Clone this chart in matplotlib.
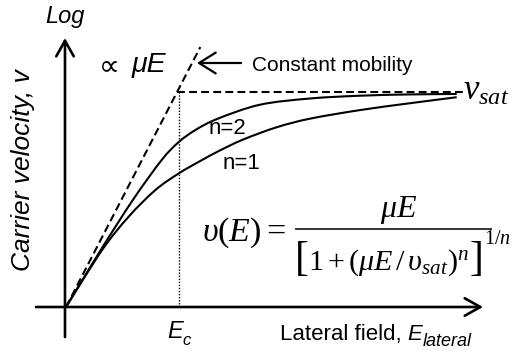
import matplotlib
matplotlib.use("Agg")
import matplotlib.pyplot as plt
from matplotlib.path import Path
from matplotlib.patches import PathPatch

plt.rcParams['font.family'] = ['Liberation Sans', 'DejaVu Sans']
plt.rcParams['mathtext.fontset'] = 'custom'
plt.rcParams['mathtext.rm'] = 'Liberation Serif'
plt.rcParams['mathtext.it'] = 'Liberation Serif:italic'
plt.rcParams['mathtext.bf'] = 'Liberation Serif:bold'

# Field in units of E_c, velocity in units of v_sat
field_n2 = [0, 0.32, 0.602, 0.85, 1.0, 1.15, 1.35, 1.724, 2.169, 2.613,
            3.058, 3.473]
vel_n2 = [0, 0.275, 0.505, 0.685, 0.768, 0.825, 0.878, 0.943, 0.972, 0.985,
          0.991, 0.993]

field_n1 = [0, 0.32, 0.557, 0.794, 1.0, 1.191, 1.369, 1.576, 1.873, 2.169,
            2.613, 3.058, 3.473]
vel_n1 = [0, 0.265, 0.421, 0.545, 0.622, 0.680, 0.730, 0.781, 0.838, 0.878,
          0.918, 0.950, 0.978]

mobility_slope = 1.015        # constant-mobility line v = mu*E
mobility_end = 1.194          # where the dashed line stops
E_c = 1.0
v_sat = 1.0
sat_line_end = 3.564

fig = plt.figure(figsize=(5.14, 3.52), dpi=100)
ax = fig.add_axes([0, 0, 1, 1])
ax.set_xlim(-0.5867, 3.9822)
ax.set_ylim(-0.2098, 1.4312)
ax.axis('off')


def smooth_curve(xs, ys, **kw):
    """Draw a smooth Catmull-Rom style Bezier curve through the points."""
    pts = list(zip(xs, ys))
    n = len(pts)
    verts = [pts[0]]
    codes = [Path.MOVETO]
    for i in range(n - 1):
        p0 = pts[max(i - 1, 0)]
        p1 = pts[i]
        p2 = pts[i + 1]
        p3 = pts[min(i + 2, n - 1)]
        c1 = (p1[0] + (p2[0] - p0[0]) / 6, p1[1] + (p2[1] - p0[1]) / 6)
        c2 = (p2[0] - (p3[0] - p1[0]) / 6, p2[1] - (p3[1] - p1[1]) / 6)
        verts += [c1, c2, p2]
        codes += [Path.CURVE4] * 3
    ax.add_patch(PathPatch(Path(verts, codes), fill=False,
                           transform=ax.transData, **kw))


# axes with open arrowheads
arrow_kw = dict(arrowstyle='->,head_length=0.75,head_width=0.42', lw=1.9,
                color='black', shrinkA=0, shrinkB=0, mutation_scale=15)
ax.annotate('', xy=(-0.009, 1.254), xytext=(-0.009, -0.14), arrowprops=arrow_kw)
ax.annotate('', xy=(3.707, 0), xytext=(-0.267, 0), arrowprops=arrow_kw)

# constant mobility line and saturation level
ax.plot([0, mobility_end], [0, mobility_slope * mobility_end], color='black',
        lw=1.5, linestyle=(0, (3.8, 2.0)))
ax.plot([v_sat / mobility_slope, sat_line_end], [v_sat, v_sat], color='black',
        lw=1.5, linestyle=(0, (3.8, 2.0)))
ax.plot([E_c, E_c], [0, v_sat], color='black', lw=1.0, linestyle=(0, (1, 1.2)))

# velocity-field curves
smooth_curve(field_n2, vel_n2, edgecolor='black', lw=1.5)
smooth_curve(field_n1, vel_n1, edgecolor='black', lw=1.5)

fig.canvas.draw()
renderer = fig.canvas.get_renderer()
to_data = ax.transData.inverted()


def after(txt, s, y=None, dx=0.0, dy=0.0, **kw):
    """Place a text piece directly after another one."""
    bb = txt.get_window_extent(renderer)
    x0, y0 = ax.transData.transform(txt.get_position())
    if y is not None:
        y0 = ax.transData.transform((0, y))[1]
    xd, yd = to_data.transform((bb.x1 + dx, y0 + dy))
    t = ax.text(xd, yd, s, ha='left', va='baseline', **kw)
    fig.canvas.draw()
    return t


# labels
ax.text(-0.009, 1.352, 'Log', ha='center', va='center', fontsize=17,
        style='italic')
ax.text(-0.382, 0.639, 'Carrier velocity, v', rotation=90, ha='center',
        va='center', fontsize=19, style='italic')

ax.text(0.385, 1.125, '\u221d', ha='center', va='center', fontsize=21,
        family='DejaVu Sans')
ax.text(0.585, 1.096, '\u03bcE', ha='left', va='baseline', fontsize=20.5,
        style='italic')

ax.annotate('', xy=(1.164, 1.1375), xytext=(1.556, 1.1375),
            arrowprops=dict(arrowstyle='->,head_length=0.8,head_width=0.5',
                            lw=1.6, color='black', shrinkA=0, shrinkB=0,
                            mutation_scale=15))
ax.text(1.653, 1.100, 'Constant mobility', ha='left', va='baseline',
        fontsize=15)

ax.text(3.529, 0.965, r'$v_{sat}$', ha='left', va='baseline', fontsize=25)

ax.text(1.431, 0.834, 'n=2', ha='center', va='center', fontsize=16)
ax.text(1.556, 0.667, 'n=1', ha='center', va='center', fontsize=16)

ec = ax.text(0.898, -0.1445, 'E', ha='left', va='baseline', fontsize=17,
             style='italic')
fig.canvas.draw()
after(ec, 'c', dy=-7, fontsize=12, style='italic')

lat = ax.text(1.90, -0.155, 'Lateral field, ', ha='left', va='baseline',
              fontsize=16)
fig.canvas.draw()
lat_e = after(lat, 'E', fontsize=16, style='italic')
after(lat_e, 'lateral', dy=-6, fontsize=13, style='italic')

# velocity-field model
den_size = 21.7
den_base = 0.1725
lhs = ax.text(1.209, 0.307, r'$\upsilon(E)$', ha='left', va='baseline',
              fontsize=24.5)
fig.canvas.draw()
after(lhs, '=', y=0.307, dx=5, fontsize=24.5, family='Liberation Serif')
lb = ax.text(2.035, den_base, '[', ha='left', va='baseline', fontsize=30,
             family='Liberation Serif')
fig.canvas.draw()
den = after(lb, r'$1+(\mu E\,/\,\upsilon_{sat})^{n}$', y=den_base, dx=-1,
            fontsize=den_size)
rb = after(den, ']', y=den_base, dx=1, fontsize=30, family='Liberation Serif')
after(rb, r'$1/n$', y=0.295, dx=0, fontsize=14.5)

x_left = lb.get_window_extent(renderer).x0
x_right = rb.get_window_extent(renderer).x1 + 8
bar_y = ax.transData.transform((0, 0.3613))[1]
(bx0, by), (bx1, _) = to_data.transform([(x_left, bar_y), (x_right, bar_y)])
ax.plot([bx0, bx1], [by, by], color='black', lw=1.1, solid_capstyle='butt')
ax.text((bx0 + bx1) / 2 + 0.05, 0.4196, r'$\mu E$', ha='center',
        va='baseline', fontsize=23)

fig.savefig('out.png', dpi=100)
